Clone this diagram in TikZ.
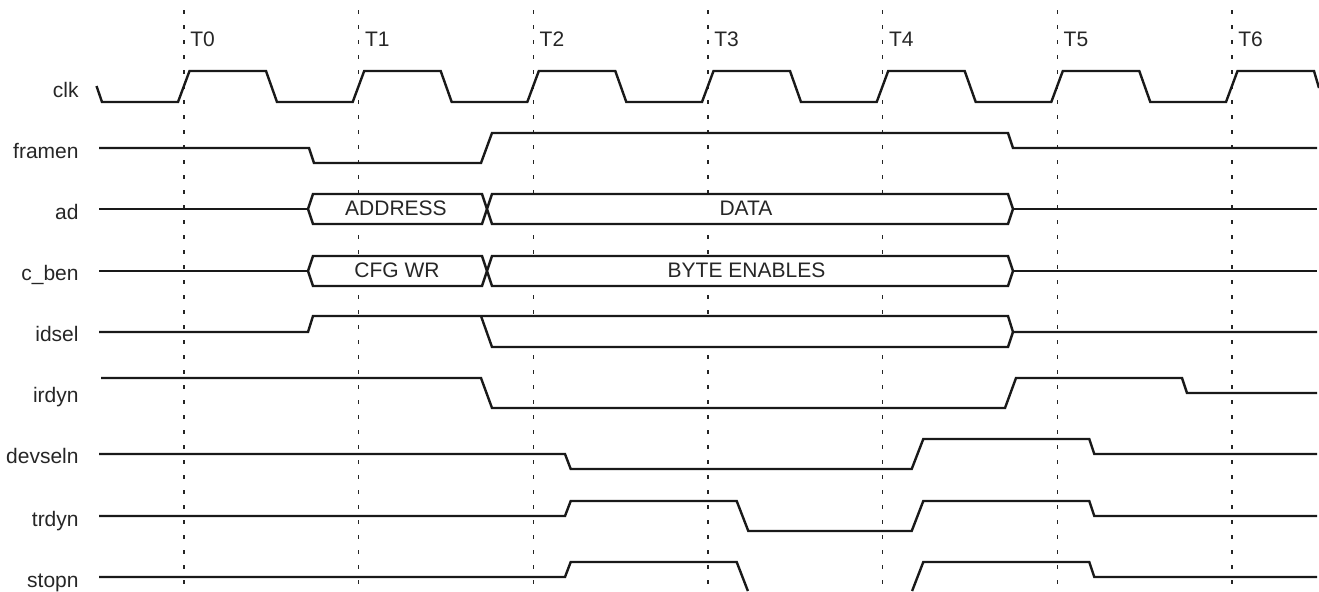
\documentclass[tikz,border=0pt]{standalone}
\usepackage{fontspec}
\setmainfont{Liberation Sans}

\begin{document}
\begin{tikzpicture}[x=0.5pt,y=-0.5pt,font=\fontsize{10.5}{12}\selectfont]
\tikzstyle{wave}=[line width=1.2pt, draw=black!90, line join=miter]
\tikzstyle{bus}=[wave, fill=white]
\tikzstyle{timeline}=[line width=0.6pt, draw=black!85, dash pattern=on 2pt off 5.5pt]
\tikzstyle{signame}=[anchor=base east, inner sep=0pt, text=black!85]
\tikzstyle{tlabel}=[anchor=base west, inner sep=0pt, text=black!85]
\tikzstyle{bustext}=[anchor=base, inner sep=0pt, text=black!85]
    \useasboundingbox (0,0) rectangle (1319,591);

    \draw[timeline] (184,10) -- (184,591);
    \draw[timeline] (358.7,10) -- (358.7,591);
    \draw[timeline] (533.3,10) -- (533.3,591);
    \draw[timeline] (708,10) -- (708,591);
    \draw[timeline] (882.7,10) -- (882.7,591);
    \draw[timeline] (1057.3,10) -- (1057.3,591);
    \draw[timeline] (1232,10) -- (1232,591);

    \node (t0) [tlabel] at (190,46) {T0};
    \node (t1) [tlabel] at (364.7,46) {T1};
    \node (t2) [tlabel] at (539.3,46) {T2};
    \node (t3) [tlabel] at (714,46) {T3};
    \node (t4) [tlabel] at (888.7,46) {T4};
    \node (t5) [tlabel] at (1063.3,46) {T5};
    \node (t6) [tlabel] at (1238,46) {T6};

    \node (clk) [signame] at (79,97) {clk};
    \node (framen) [signame] at (79,158.5) {framen};
    \node (ad) [signame] at (79,219.5) {ad};
    \node (cben) [signame] at (79,280.5) {c\_ben};
    \node (idsel) [signame] at (79,341.5) {idsel};
    \node (irdyn) [signame] at (79,402.5) {irdyn};
    \node (devseln) [signame] at (79,463.5) {devseln};
    \node (trdyn) [signame] at (79,526) {trdyn};
    \node (stopn) [signame] at (79,587) {stopn};

    \draw[wave] (96.5,86) -- (102,102)
        \foreach \t in {184,358.7,533.3,708,882.7,1057.3} {
            -- (\t-6,102) -- (\t+5.5,71) -- (\t+82,71) -- (\t+93,102) }
        -- (1226,102) -- (1237.5,71) -- (1314,71) -- (1319,88);

    \draw[wave] (99,148) -- (309,148) -- (314,163) -- (481,163) -- (492,133)
        -- (1008,133) -- (1013,148) -- (1317,148);

    \draw[wave] (99,209) -- (308,209);
    \draw[bus] (308,209) -- (313,194) -- (482,194) -- (487,209) -- (482,224) -- (313,224) -- cycle;
    \draw[bus] (487,209) -- (492,194) -- (1008,194) -- (1013,209) -- (1008,224) -- (492,224) -- cycle;
    \draw[wave] (1013,209) -- (1317,209);
    \node (addr) [bustext] at (396,215) {ADDRESS};
    \node (data) [bustext] at (746,215) {DATA};

    \draw[wave] (99,271) -- (308,271);
    \draw[bus] (308,271) -- (313,256) -- (482,256) -- (487,271) -- (482,286) -- (313,286) -- cycle;
    \draw[bus] (487,271) -- (492,256) -- (1008,256) -- (1013,271) -- (1008,286) -- (492,286) -- cycle;
    \draw[wave] (1013,271) -- (1317,271);
    \node (cfgwr) [bustext] at (397,277) {CFG WR};
    \node (byteen) [bustext] at (746.5,277) {BYTE ENABLES};

    \fill[white] (481,316) -- (1008,316) -- (1013,332) -- (1008,347) -- (492,347) -- cycle;
    \draw[wave] (99,332) -- (308,332) -- (313,316) -- (1008,316) -- (1013,332) -- (1317,332);
    \draw[wave] (481,316) -- (492,347) -- (1008,347) -- (1013,332);

    \draw[wave] (101,378) -- (481,378) -- (492,408) -- (1005,408) -- (1016,378)
        -- (1182,378) -- (1187,393) -- (1317,393);

    \draw[wave] (99,454) -- (565,454) -- (570.7,469) -- (911.7,469) -- (923.3,439)
        -- (1089.3,439) -- (1094.3,454) -- (1317,454);

    \draw[wave] (99,516) -- (565,516) -- (570.7,501) -- (736.7,501) -- (748.3,531)
        -- (911.7,531) -- (923.3,501) -- (1089.3,501) -- (1094.3,516) -- (1317,516);

    \draw[wave] (99,577) -- (565,577) -- (570.7,562) -- (736.7,562) -- (747.9,591);
    \draw[wave] (912.1,591) -- (923.3,562) -- (1089.3,562) -- (1094.3,577) -- (1317,577);
\end{tikzpicture}
\end{document}
